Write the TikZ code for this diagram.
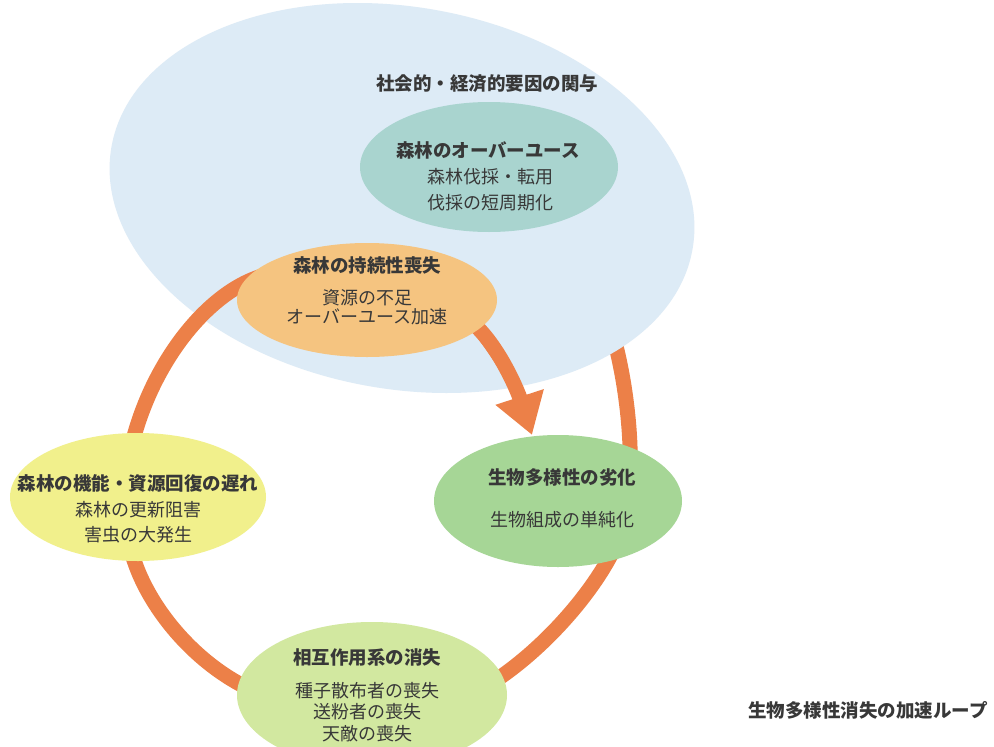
\documentclass[tikz,border=0pt]{standalone}
\usepackage{fontspec}
\newfontfamily\jp{Noto Sans CJK JP}
\usetikzlibrary{shapes.geometric,arrows.meta}
\definecolor{skyb}{HTML}{DDEBF6}
\definecolor{tealc}{HTML}{A9D4CF}
\definecolor{orangec}{HTML}{F5C480}
\definecolor{greenc}{HTML}{A6D696}
\definecolor{yellowc}{HTML}{F1F08C}
\definecolor{lgreenc}{HTML}{D2E8A0}
\definecolor{loopc}{HTML}{EC8048}
\definecolor{txt}{HTML}{383838}
\begin{document}
\begin{tikzpicture}[x=1pt,y=-1pt,
  ell/.style={ellipse, inner sep=0pt, draw=none},
  ttl/.style={text=txt, inner sep=0pt, font=\jp\bfseries\fontsize{18.5}{22}\selectfont},
  body/.style={text=txt, inner sep=0pt, align=center, font=\jp\fontsize{18}{#1}\selectfont},
  body/.default=22,
  loopline/.style={draw=loopc, line width=15pt, line cap=butt}
]
\useasboundingbox (0,0) rectangle (994,747);
\fill[white] (0,0) rectangle (994,747);
\clip (0,0) rectangle (994,747);

% loop anchor points (hidden under the ellipses)
\coordinate (dS) at (630,470);
\coordinate (dE) at (600,300);
\coordinate (aS) at (262,276);
\coordinate (aE) at (127,470);
\coordinate (bS) at (127,520);
\coordinate (bE) at (280,700);
\coordinate (cS) at (460,700);
\coordinate (cE) at (625,520);
\coordinate (arS) at (462,315);
\coordinate (arE) at (532,435);

% right upper part of the loop, under the blue ellipse
\draw[loopline] (dS) .. controls (632,420) and (620,340) .. (dE);

% blue background ellipse
\node[ell, fill=skyb, minimum width=590pt, minimum height=382pt, rotate=-10] (social) at (402,198) {};
\node[ttl] (socialtxt) at (487,84) {社会的・経済的要因の関与};

% teal ellipse
\node[ell, fill=tealc, minimum width=258pt, minimum height=130pt] (overuse) at (489,167) {};

% loop parts over the blue ellipse
\draw[loopline] (aS) .. controls (200,295) and (140,380) .. (aE);
\draw[loopline] (bS) .. controls (127,590) and (200,680) .. (bE);
\draw[loopline] (cS) .. controls (530,670) and (610,580) .. (cE);

% arrow
\draw[draw=loopc, line width=15pt, -{Triangle[width=48pt,length=40pt]}, fill=loopc]
  (arS) .. controls (495,335) and (518,392) .. (arE);

% ellipses of the loop
\node[ell, fill=orangec, minimum width=260pt, minimum height=114pt] (sustain) at (367,300) {};
\node[ell, fill=yellowc, minimum width=256pt, minimum height=128pt] (recovery) at (138,497) {};
\node[ell, fill=greenc, minimum width=248pt, minimum height=132pt] (degrade) at (558,501) {};
\node[ell, fill=lgreenc, minimum width=270pt, minimum height=146pt] (interact) at (372,695) {};

% texts
\node[ttl] (t1) at (488,150) {森林のオーバーユース};
\node[body=26] (b1) at (490,190) {森林伐採・転用\\伐採の短周期化};

\node[ttl] (t2) at (367,265) {森林の持続性喪失};
\node[body=19] (b2) at (367,307.5) {資源の不足\\オーバーユース加速};

\node[ttl] (t3) at (138,483) {森林の機能・資源回復の遅れ};
\node[body=25] (b3) at (138,522.5) {森林の更新阻害\\害虫の大発生};

\node[ttl] (t4) at (562,477) {生物多様性の劣化};
\node[body] (b4) at (562,520) {生物組成の単純化};

\node[ttl] (t5) at (367,658) {相互作用系の消失};
\node[body=21.5] (b5) at (367,712) {種子散布者の喪失\\送粉者の喪失\\天敵の喪失};

\node[ttl] (cap) at (868,710) {生物多様性消失の加速ループ};
\end{tikzpicture}
\end{document}
